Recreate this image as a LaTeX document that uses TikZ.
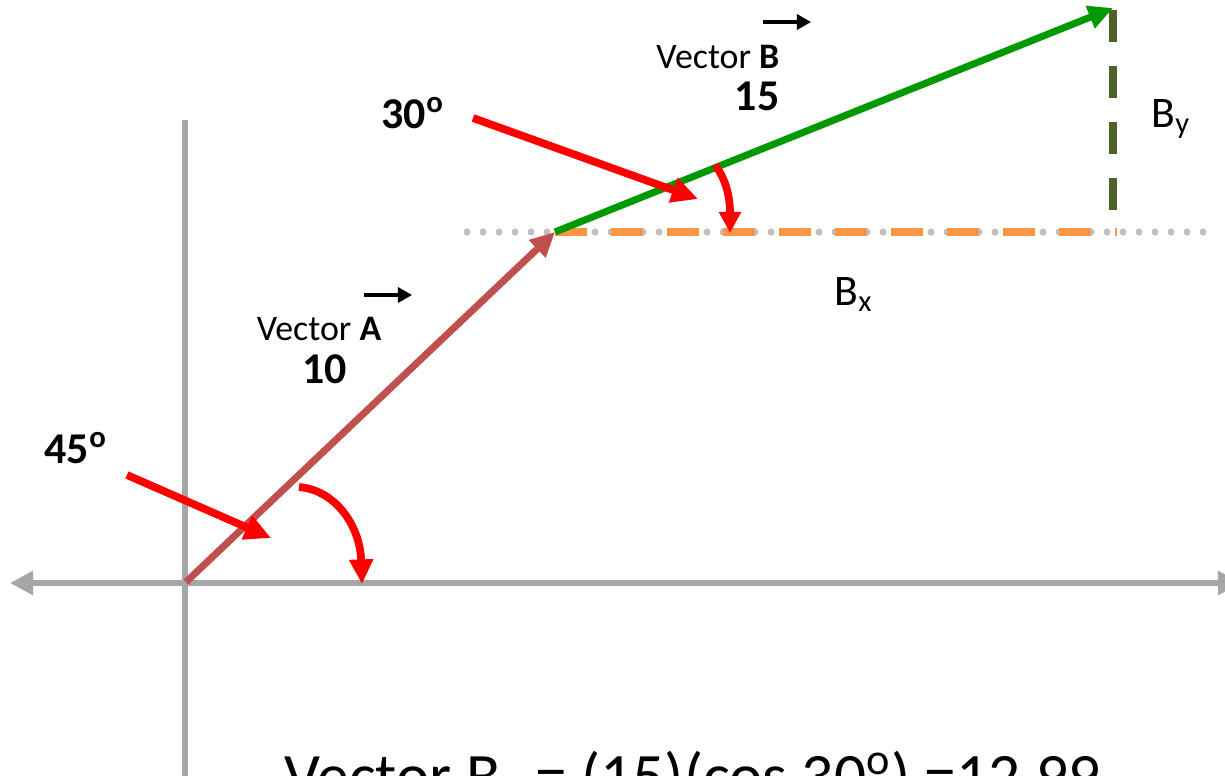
\documentclass[tikz,border=0pt]{standalone}
\usepackage{fontspec}
\setmainfont{Carlito}
\usetikzlibrary{arrows.meta}
\definecolor{vecA}{RGB}{192,80,77}
\definecolor{vecB}{RGB}{0,153,0}
\definecolor{axisgray}{RGB}{166,166,166}
\definecolor{dotgray}{RGB}{191,191,191}
\definecolor{bxorange}{RGB}{247,150,70}
\definecolor{byolive}{RGB}{79,98,40}
\definecolor{pointred}{RGB}{255,0,0}

\begin{document}
\begin{tikzpicture}[x=0.01cm,y=-0.01cm,
  axisline/.style={line width=1.8pt,color=axisgray},
  vecline/.style={line width=2pt,-{Triangle[length=7pt,width=6.5pt]}},
  pointer/.style={line width=2.2pt,color=pointred,-{Triangle[length=7.5pt,width=7pt]}},
  overarrow/.style={line width=0.9pt,-{Triangle[length=4pt,width=4.3pt]}},
  labeltext/.style={font=\fontsize{10.2}{12}\selectfont,inner sep=0pt},
  valuetext/.style={font=\fontsize{12.5}{15}\selectfont\bfseries,inner sep=0pt},
  comptext/.style={font=\fontsize{12.4}{15}\selectfont,inner sep=0pt}]
\useasboundingbox (0,0) rectangle (1225,775);
\clip (0,0) rectangle (1225,775);

% points
\coordinate (O) at (186,582);
\coordinate (A) at (555,232);
\coordinate (B) at (1113,8);
\coordinate (Bfoot) at (1113,232);
\coordinate (xleft) at (10,583);
\coordinate (xright) at (1241,583);
\coordinate (ytop) at (185,120);
\coordinate (ybot) at (185,780);

% axes
\draw[axisline] (ytop) -- (ybot);
\draw[axisline,{Triangle[length=6.6pt,width=6.6pt]}-{Triangle[length=6.6pt,width=6.6pt]}] (xleft) -- (xright);

% horizontal reference through the tip of A
\coordinate (dotstart) at (467,232);
\coordinate (dotend) at (1212,232);
\draw[dotgray,line width=2pt,line cap=round,dash pattern=on 0pt off 4.55pt] (dotstart) -- (dotend);

% components of B
\coordinate (Bxend) at (1117,232);
\draw[bxorange,line width=2.1pt,dash pattern=on 9.1pt off 6.83pt] (A) -- (Bxend);
\coordinate (Bytop) at (1113,10);
\draw[byolive,line width=2.3pt,dash pattern=on 9.1pt off 6.83pt] (Bytop) -- (Bfoot);

% vectors
\draw[vecline,vecA] (O) -- (A);
\draw[vecline,vecB] (A) -- (B);

% labels of the vectors
\node[labeltext,anchor=base east] (labA) at (382,340) {Vector \textbf{A}};
\node[valuetext,anchor=base west] (valA) at (302,383) {10};
\coordinate (arrAs) at (364,295);
\coordinate (arrAe) at (412,295);
\draw[overarrow] (arrAs) -- (arrAe);

\node[labeltext,anchor=base east] (labB) at (780,68) {Vector \textbf{B}};
\node[valuetext,anchor=base east] (valB) at (780,110) {15};
\coordinate (arrBs) at (763,22);
\coordinate (arrBe) at (811,22);
\draw[overarrow] (arrBs) -- (arrBe);

% components
\node[comptext,anchor=base west] (By) at (1151,127) {B\textsubscript{y}};
\node[comptext,anchor=base west] (Bx) at (834,305) {B\textsubscript{x}};

% angles
\node[valuetext,anchor=base west] (ang45) at (44,463) {45\textsuperscript{o}};
\coordinate (p45s) at (127,475);
\coordinate (p45e) at (271,538);
\draw[pointer] (p45s) -- (p45e);
\coordinate (c45s) at (299,487);
\coordinate (c45e) at (362,584);
\draw[pointer,-{Triangle[length=7pt,width=6.5pt]}] (c45s) .. controls (335,490) and (360,525) .. (c45e);

\node[valuetext,anchor=base west] (ang30) at (381,128) {30\textsuperscript{o}};
\coordinate (p30s) at (473,118);
\coordinate (p30e) at (698,199);
\draw[pointer] (p30s) -- (p30e);
\coordinate (c30s) at (715,165);
\coordinate (c30e) at (730,233);
\draw[pointer,-{Triangle[length=6pt,width=6pt]}] (c30s) .. controls (725,178) and (730,195) .. (c30e);

% formula (cut by the lower edge)
\node[font=\fontsize{18}{22}\selectfont,inner sep=0pt,anchor=base west] (formula) at (284,797)
  {Vector B\textsubscript{x} = (15)(cos 30\textsuperscript{o}) =12.99};
\end{tikzpicture}
\end{document}
